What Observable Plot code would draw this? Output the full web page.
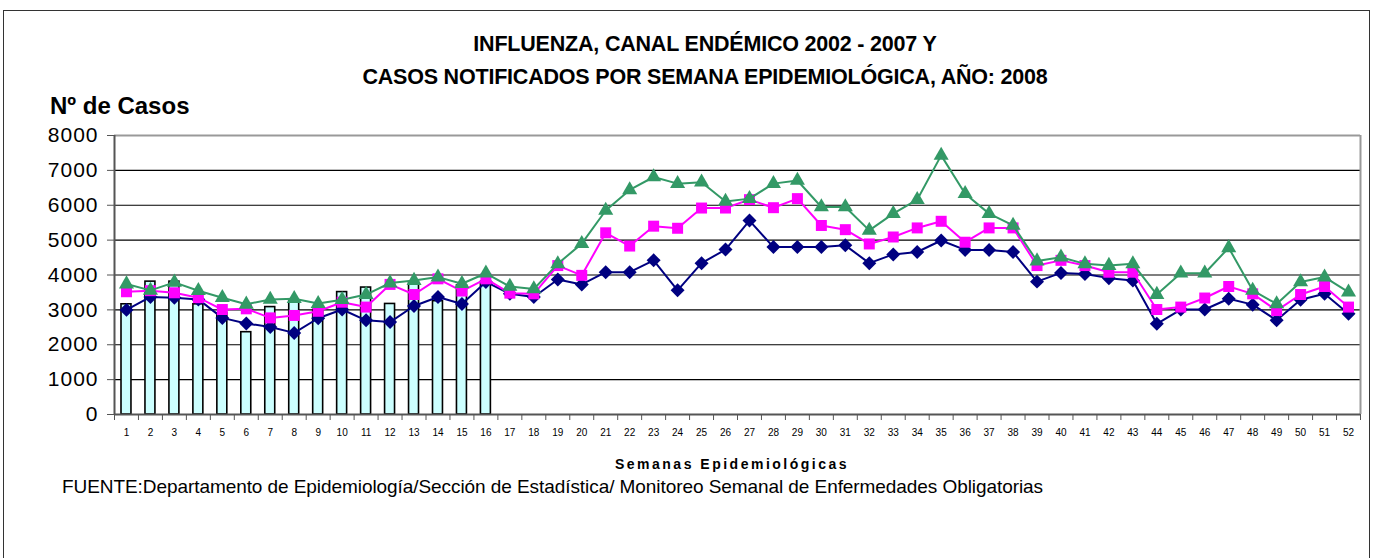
<!DOCTYPE html>
<html><head><meta charset="utf-8">
<script src="https://cdn.jsdelivr.net/npm/d3@7"></script>
<script src="https://cdn.jsdelivr.net/npm/@observablehq/plot@0.6"></script>
<style>
body{margin:0;background:#fff;overflow:hidden;}
#wrap{position:relative;width:1373px;height:558px;overflow:hidden;font-family:Arial,"Liberation Sans",sans-serif;color:#000;}
#frame{position:absolute;left:3px;top:10px;width:1367px;height:600px;border:1.5px solid #333;box-sizing:border-box;}
.t{position:absolute;white-space:nowrap;}
.title{left:0;width:1410px;text-align:center;font-weight:bold;font-size:21.5px;letter-spacing:-0.2px;}
#chart{position:absolute;left:0;top:120px;}
</style></head>
<body><div id="wrap">
<div id="frame"></div>
<div class="t title" style="top:32px">INFLUENZA, CANAL ENDÉMICO 2002 - 2007 Y</div>
<div class="t title" style="top:65px">CASOS NOTIFICADOS POR SEMANA EPIDEMIOLÓGICA, AÑO: 2008</div>
<div class="t" style="left:50px;top:92px;font-weight:bold;font-size:24px;">Nº de Casos</div>
<div id="chart"></div>
<div class="t" style="left:0;width:1464px;text-align:center;top:456px;font-weight:bold;font-size:14px;letter-spacing:2.5px;">Semanas Epidemiológicas</div>
<div class="t" style="left:62px;top:476px;font-size:19px;letter-spacing:-0.07px;">FUENTE:Departamento de Epidemiología/Sección de Estadística/ Monitoreo Semanal de Enfermedades Obligatorias</div>
</div>
<script>
const weeks = [1,2,3,4,5,6,7,8,9,10,11,12,13,14,15,16,17,18,19,20,21,22,23,24,25,26,27,28,29,30,31,32,33,34,35,36,37,38,39,40,41,42,43,44,45,46,47,48,49,50,51,52];
const yTicks = [0,1000,2000,3000,4000,5000,6000,7000,8000];
// Casos notificados 2008 (semanas 1-16)
const casos2008 = [3160,3810,3810,3160,2900,2360,3080,3270,3000,3510,3640,3170,3780,3250,3700,3800];
// Canal endémico 2002-2007
const inferior = [3000,3370,3350,3300,2770,2610,2510,2340,2760,3010,2700,2650,3110,3370,3170,3800,3460,3370,3870,3730,4080,4080,4420,3560,4340,4730,5560,4800,4800,4800,4850,4340,4590,4660,4990,4720,4720,4660,3810,4060,4030,3910,3840,2600,3010,3010,3320,3150,2700,3290,3460,2890];
const mediana = [3520,3550,3490,3350,3010,3030,2770,2840,2960,3220,3080,3730,3440,3890,3540,3890,3480,3460,4270,3990,5210,4830,5400,5340,5920,5920,6160,5930,6190,5420,5300,4890,5090,5350,5540,4940,5350,5350,4270,4420,4270,4080,4080,3010,3080,3340,3670,3460,2980,3440,3670,3080];
const superior = [3740,3560,3790,3550,3350,3160,3300,3320,3180,3290,3440,3770,3840,3940,3750,4050,3670,3600,4320,4900,5850,6440,6810,6620,6660,6110,6190,6620,6710,5950,5950,5280,5760,6160,7430,6330,5760,5420,4400,4510,4320,4270,4320,3440,4050,4050,4780,3560,3170,3800,3940,3510];

const bars = casos2008.map((v,i)=>({week:weeks[i], v}));
const ser = arr => arr.map((v,i)=>({week:weeks[i], v}));
const low = ser(inferior), med = ser(mediana), up = ser(superior);
const bounds = weeks.map(w=>w-0.5).concat([weeks[weeks.length-1]+0.5]);

const chart = Plot.plot({
  width:1373, height:330,
  marginLeft:114, marginRight:13, marginTop:15, marginBottom:36,
  style:{fontFamily:"Arial, 'Liberation Sans', sans-serif", color:"#000", background:"transparent"},
  x:{type:"linear", domain:[bounds[0], bounds[bounds.length-1]]},
  y:{domain:[0,8000]},
  marks:[
    Plot.ruleY(yTicks.slice(1,-1), {stroke:"#000", strokeWidth:1.2}),
    Plot.ruleY([8000], {stroke:"#999", strokeWidth:2}),
    Plot.ruleX([bounds[bounds.length-1]], {stroke:"#999", strokeWidth:2}),
    Plot.rectY(bars, {x1:d=>d.week-0.5, x2:d=>d.week+0.5, y:"v", insetLeft:7, insetRight:7, fill:"#ccffff", stroke:"#000", strokeWidth:1.6}),
    Plot.line(low, {x:"week", y:"v", stroke:"#000080", strokeWidth:2}),
    Plot.dot(low, {x:"week", y:"v", symbol:"diamond2", r:6.3, fill:"#000080", stroke:"none"}),
    Plot.line(med, {x:"week", y:"v", stroke:"#ff00ff", strokeWidth:2}),
    Plot.dot(med, {x:"week", y:"v", symbol:"square", r:6.2, fill:"#ff00ff", stroke:"none"}),
    Plot.line(up, {x:"week", y:"v", stroke:"#339966", strokeWidth:2}),
    Plot.dot(up, {x:"week", y:"v", symbol:"triangle", r:5.6, fill:"#339966", stroke:"none"}),
    Plot.ruleX([bounds[0]], {stroke:"#555", strokeWidth:2}),
    Plot.ruleY([0], {stroke:"#555", strokeWidth:2}),
    Plot.axisY({ticks:yTicks, tickSize:7, tickPadding:9, fontSize:21, tickFormat:d=>String(d), label:null, stroke:"#555"}),
    Plot.axisX({ticks:weeks, tickSize:0, tickPadding:14, fontSize:10, tickFormat:d=>String(d), label:null}),
    Plot.axisX({ticks:bounds, tickSize:6, tickFormat:()=>"", label:null, stroke:"#555"})
  ]
});
chart.querySelectorAll("g[aria-label='y-axis tick label'] text").forEach(t=>t.setAttribute("letter-spacing","1"));
document.getElementById("chart").appendChild(chart);
</script>
</body></html>
